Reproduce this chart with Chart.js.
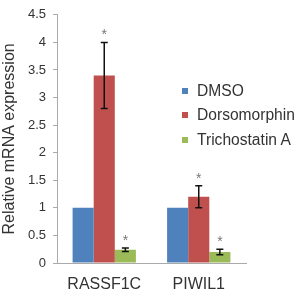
<!DOCTYPE html>
<html><head><meta charset="utf-8">
<script src="https://cdn.jsdelivr.net/npm/chart.js@4/dist/chart.umd.min.js"></script>
<style>
html,body{margin:0;padding:0;background:#fff;}
#wrap{position:relative;width:302px;height:299px;}
#legend{position:absolute;left:182px;top:79px;font-family:"Liberation Sans",Arial,sans-serif;font-size:15.6px;color:#333;}
#legend .it{height:24.3px;line-height:24px;white-space:nowrap;position:relative;padding-left:15px;}
#legend .sw{position:absolute;left:0;top:9px;width:6px;height:6px;}
</style></head>
<body><div id="wrap"><canvas id="c" width="302" height="299"></canvas><div id="legend"></div></div>
<script>
const categories = ["RASSF1C", "PIWIL1"];
const seriesNames = ["DMSO", "Dorsomorphin", "Trichostatin A"];
const dmso = [1, 1];
const dorsomorphin = [3.4, 1.2];
const trichostatin = [0.24, 0.2];
const dmsoErr = [0, 0];
const dorsomorphinErr = [0.6, 0.2];
const trichostatinErr = [0.03, 0.05];
const dmsoSig = [false, false];
const dorsomorphinSig = [true, true];
const trichostatinSig = [true, true];
const yTicks = [0, 0.5, 1, 1.5, 2, 2.5, 3, 3.5, 4, 4.5];

const colors = ["#4F81BD", "#C0504D", "#9BBB59"];
const values = [dmso, dorsomorphin, trichostatin];
const errs = [dmsoErr, dorsomorphinErr, trichostatinErr];
const sigs = [dmsoSig, dorsomorphinSig, trichostatinSig];
const FONT = "'Liberation Sans', Arial, sans-serif";
const TXT = "#333";

const errPlugin = {
  id: 'errbars',
  afterDatasetsDraw(chart) {
    const ctx = chart.ctx, y = chart.scales.y;
    chart.data.datasets.forEach((ds, di) => {
      const meta = chart.getDatasetMeta(di);
      meta.data.forEach((bar, i) => {
        const v = ds.data[i], e = ds.err[i];
        let topPx = y.getPixelForValue(v);
        if (e > 0) {
          const t = y.getPixelForValue(v + e), b = y.getPixelForValue(v - e);
          const cap = 7;
          ctx.save();
          ctx.strokeStyle = "#111";
          ctx.lineWidth = 1.5;
          ctx.beginPath();
          ctx.moveTo(bar.x, t); ctx.lineTo(bar.x, b);
          ctx.moveTo(bar.x - cap/2, t); ctx.lineTo(bar.x + cap/2, t);
          ctx.moveTo(bar.x - cap/2, b); ctx.lineTo(bar.x + cap/2, b);
          ctx.stroke();
          ctx.restore();
          topPx = t;
        }
        if (ds.sig[i]) {
          ctx.save();
          ctx.fillStyle = "#777";
          ctx.font = "14px " + FONT;
          ctx.textAlign = "center";
          ctx.textBaseline = "middle";
          ctx.fillText("*", bar.x, topPx - 7);
          ctx.restore();
        }
      });
    });
  }
};

const chart = new Chart(document.getElementById('c'), {
  type: 'bar',
  data: {
    labels: categories,
    datasets: seriesNames.map((n, i) => ({
      label: n, data: values[i], err: errs[i], sig: sigs[i],
      backgroundColor: colors[i], borderWidth: 0,
      categoryPercentage: 0.67, barPercentage: 1
    }))
  },
  options: {
    responsive: false, animation: false,
    devicePixelRatio: 1,
    layout: { padding: { top: 14, right: 56, left: 0, bottom: 0 } },
    plugins: { legend: { display: false }, tooltip: { enabled: false } },
    scales: {
      x: {
        grid: { display: true, drawOnChartArea: false, drawTicks: false },
        border: { color: "#aaaaaa", width: 1 },
        ticks: { font: { size: 16, family: FONT }, color: TXT, padding: 12 },
        afterFit(s) { s.height = 36; }
      },
      y: {
        min: 0, max: 4.5,
        afterBuildTicks(s) { s.ticks = yTicks.map(v => ({ value: v })); },
        grid: { display: true, drawOnChartArea: false, drawTicks: true, tickLength: 4, color: "#aaaaaa" },
        border: { color: "#aaaaaa", width: 1 },
        ticks: { font: { size: 13, family: FONT }, color: TXT, padding: 7,
          callback: v => String(v) },
        title: { display: true, text: "Relative mRNA expression", font: { size: 16, family: FONT }, color: TXT, padding: { top: 0, bottom: 0 } },
        afterFit(s) { s.width = 57; }
      }
    }
  },
  plugins: [errPlugin]
});

const lg = document.getElementById('legend');
seriesNames.forEach((n, i) => {
  const d = document.createElement('div'); d.className = 'it';
  const sw = document.createElement('span'); sw.className = 'sw'; sw.style.background = colors[i];
  d.appendChild(sw); d.appendChild(document.createTextNode(n));
  lg.appendChild(d);
});
</script></body></html>
